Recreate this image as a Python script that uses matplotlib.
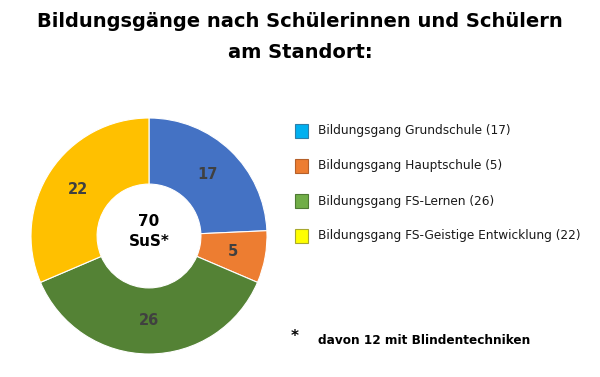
import matplotlib
matplotlib.use("Agg")
import matplotlib.pyplot as plt
from matplotlib.patches import Rectangle

# data
categories = [
    "Bildungsgang Grundschule",
    "Bildungsgang Hauptschule",
    "Bildungsgang FS-Lernen",
    "Bildungsgang FS-Geistige Entwicklung",
]
values = [17, 5, 26, 22]
pie_colors = ["#4472C4", "#ED7D31", "#548235", "#FFC000"]
legend_colors = ["#00B0F0", "#ED7D31", "#70AD47", "#FFFF00"]
legend_edges = ["#2F7FA8", "#B5602A", "#4E7A33", "#A8A830"]
total = sum(values)
center_text = f"{total}\nSuS*"
footnote = "davon 12 mit Blindentechniken"
title = "Bildungsgänge nach Schülerinnen und Schülern\nam Standort:"

plt.rcParams["font.family"] = ["DejaVu Sans"]

W, H = 600, 377
fig = plt.figure(figsize=(W / 100, H / 100), dpi=100)
fig.patch.set_facecolor("white")

fig.text(0.5, 1 - 37 / H, title, ha="center", va="center", fontsize=14,
         fontweight="bold", linespacing=1.75)

# donut
ax = fig.add_axes([(149 - 120) / W, (H - 236 - 120) / H, 240 / W, 240 / H])
wedges, texts, autotexts = ax.pie(
    values, colors=pie_colors, startangle=90, counterclock=False,
    radius=118 / 120, autopct=lambda p: f"{round(p * total / 100)}",
    pctdistance=0.72,
    wedgeprops=dict(width=0.56 * 118 / 120, edgecolor="white", linewidth=0.8),
    textprops=dict(color="#404040", fontsize=10.5, fontweight="bold"),
)
ax.set_xlim(-1, 1)
ax.set_ylim(-1, 1)
ax.set_aspect("equal")
ax.text(0, 0.04, center_text, ha="center", va="center", fontsize=11,
        fontweight="bold", color="black", linespacing=1.45)

# legend
for i, (lab, val) in enumerate(zip(categories, values)):
    yc = 131 + i * 35
    fig.patches.append(Rectangle((295 / W, (H - yc - 7) / H), 13 / W, 14 / H,
                                 transform=fig.transFigure, facecolor=legend_colors[i],
                                 edgecolor=legend_edges[i], linewidth=0.8))
    fig.text(318 / W, 1 - yc / H, f"{lab} ({val})", ha="left", va="center",
             fontsize=8.7, color="#1a1a1a")

fig.text(295 / W, 1 - 337 / H, "*", ha="center", va="center", fontsize=11,
         fontweight="bold")
fig.text(318 / W, 1 - 341 / H, footnote, ha="left", va="center", fontsize=8.7,
         fontweight="bold")

fig.savefig("out.png", dpi=100, facecolor="white")
